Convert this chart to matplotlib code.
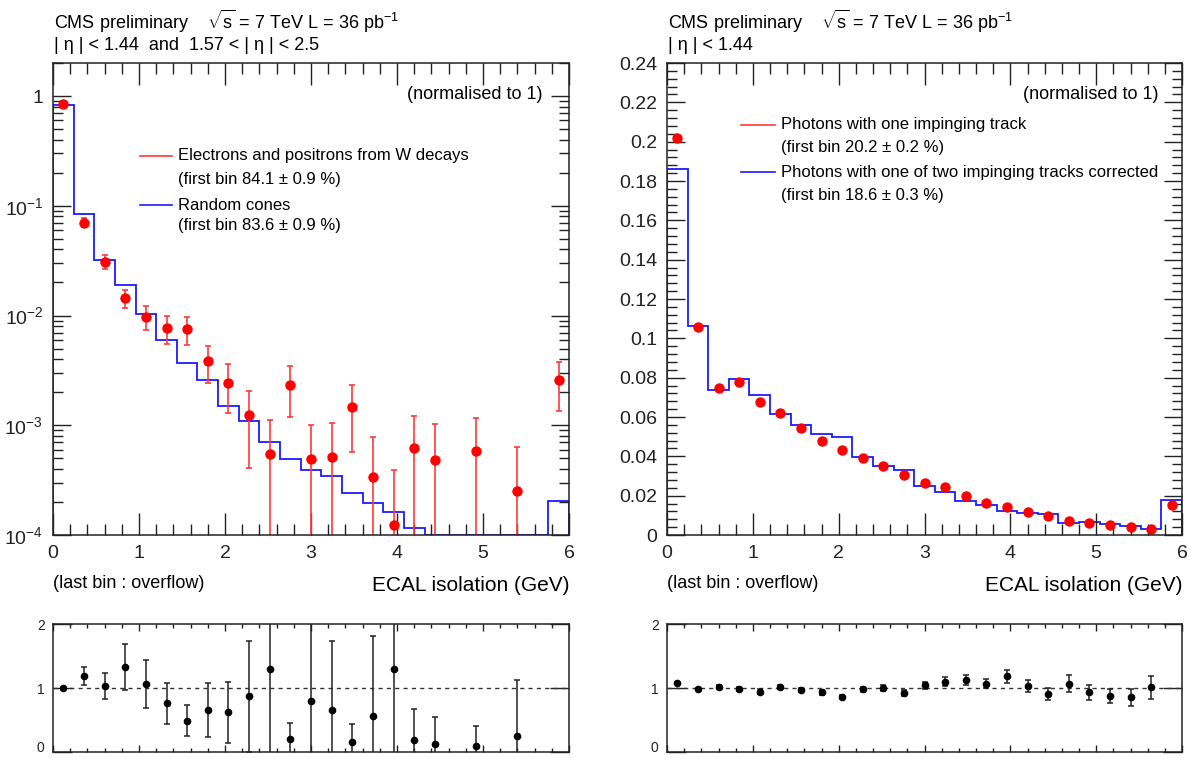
import numpy as np
import matplotlib
matplotlib.use("Agg")
import matplotlib.pyplot as plt
from matplotlib.ticker import MultipleLocator, FixedLocator, FuncFormatter, NullFormatter

plt.rcParams['font.family'] = ['Liberation Sans', 'DejaVu Sans']
plt.rcParams['mathtext.fontset'] = 'custom'
plt.rcParams['mathtext.rm'] = 'Liberation Sans'
plt.rcParams['mathtext.it'] = 'Liberation Sans:italic'

# binning : 25 bins of 0.24 GeV, last bin = overflow
edges = np.linspace(0, 6, 26)
centers = 0.5 * (edges[:-1] + edges[1:])

# left : electrons from W (red points) vs random cones (blue histo)
w_electrons = [0.841, 0.0702, 0.0309, 0.0144, 0.00979, 0.00773, 0.00751, 0.00384, 0.00244,
               0.00124, 0.000551, 0.00231, 0.000496, 0.000517, 0.00146, 0.000337, 0.000123,
               0.000615, 0.000485, np.nan, 0.000586, np.nan, 0.00025, np.nan, 0.00256]
w_electrons_err = [0.008, 0.0068, 0.0046, 0.0027, 0.0024, 0.0022, 0.0021, 0.0014, 0.00114,
                   0.00083, 0.00056, 0.00113, 0.00052, 0.00054, 0.00089, 0.00044, 0.00027,
                   0.0006, 0.00054, np.nan, 0.00058, np.nan, 0.00038, np.nan, 0.0012]
random_cones = [0.836, 0.0836, 0.0318, 0.01905, 0.01043, 0.00596, 0.00368, 0.00261, 0.0015,
                0.00109, 0.000708, 0.000492, 0.000391, 0.000344, 0.000241, 0.000194, 0.000161,
                0.000117, 0, 0, 0, 0, 0, 0, 0.000203]
ratio_left = [1.0, 1.19, 1.03, 1.33, 1.06, 0.76, 0.49, 0.66, 0.62, 0.87, 1.30, 0.21, 0.80,
              0.66, 0.16, 0.57, 1.29, 0.19, 0.13, np.nan, 0.09, np.nan, 0.25, np.nan, np.nan]
ratio_left_err = [0.02, 0.145, 0.2, 0.36, 0.37, 0.32, 0.24, 0.42, 0.48, 0.87, 1.4, 0.24, 1.3,
                  1.08, 0.27, 1.25, 1.5, 0.48, 0.41, np.nan, 0.32, np.nan, 0.88, np.nan, np.nan]

# right : photons with one impinging track vs corrected
ph_one_track = [0.202, 0.106, 0.075, 0.0776, 0.0676, 0.0621, 0.0545, 0.0476, 0.043, 0.0392,
                0.0351, 0.0304, 0.0265, 0.0242, 0.0196, 0.0165, 0.0143, 0.0119, 0.0095, 0.0071,
                0.0062, 0.0052, 0.0041, 0.0031, 0.0151]
ph_one_track_err = [0.002, 0.001, 0.0008, 0.0008, 0.0008, 0.0007, 0.0007, 0.0006, 0.0006, 0.0006,
                    0.0005, 0.0005, 0.0005, 0.0005, 0.0004, 0.0004, 0.0004, 0.0003, 0.0003, 0.0003,
                    0.0003, 0.0002, 0.0002, 0.0002, 0.0004]
ph_corrected = [0.186, 0.1064, 0.0738, 0.0795, 0.0712, 0.0614, 0.0561, 0.0514, 0.0499, 0.0399,
                0.0351, 0.0328, 0.0251, 0.022, 0.0174, 0.0151, 0.0122, 0.011, 0.0105, 0.0062,
                0.0067, 0.0057, 0.0046, 0.0031, 0.0179]
ratio_right = [1.08, 0.985, 1.015, 0.985, 0.94, 1.015, 0.97, 0.93, 0.855, 0.98, 1.0, 0.92,
               1.04, 1.10, 1.13, 1.07, 1.18, 1.03, 0.905, 1.07, 0.93, 0.87, 0.855, 1.015, np.nan]
ratio_right_err = [0.015, 0.015, 0.03, 0.03, 0.04, 0.03, 0.03, 0.04, 0.03, 0.04, 0.04, 0.05,
                   0.06, 0.07, 0.08, 0.07, 0.10, 0.10, 0.09, 0.13, 0.11, 0.11, 0.13, 0.18, np.nan]

W, H = 1189, 758
fig = plt.figure(figsize=(W / 100, H / 100), dpi=100)


def box(x0, y0, x1, y1):
    # pixel box -> figure fraction
    return [x0 / W, 1 - y1 / H, (x1 - x0) / W, (y1 - y0) / H]


def root_style(ax, xmaj, xmin, ymaj=13, ymin=7):
    ax.tick_params(which='both', direction='in', top=True, right=True, colors='#222')
    ax.tick_params(which='major', axis='x', length=xmaj, width=1)
    ax.tick_params(which='minor', axis='x', length=xmin, width=1)
    ax.tick_params(which='major', axis='y', length=ymaj, width=1)
    ax.tick_params(which='minor', axis='y', length=ymin, width=1)
    for s in ax.spines.values():
        s.set_color('#222')
        s.set_linewidth(1.1)
    ax.xaxis.set_major_locator(MultipleLocator(1))
    ax.xaxis.set_minor_locator(MultipleLocator(0.2))
    ax.set_xlim(0, 6)


# ---------------- left top : log scale
axL = fig.add_axes(box(53, 63, 569, 535))
root_style(axL, 16, 8)
axL.set_yscale('log')
axL.set_ylim(1e-4, 2)
floor = 1e-4
axL.stairs(np.maximum(random_cones, floor), edges, baseline=floor, color='#1a1aff', lw=1.3)
axL.errorbar(centers, w_electrons, yerr=w_electrons_err, fmt='o', color='#ff0000', ms=6.5,
             ecolor='#ff3a3a', elinewidth=1.2, capsize=2.5, capthick=1.2)
axL.yaxis.set_major_formatter(FuncFormatter(lambda v, p: '1' if abs(v - 1) < 1e-9 else r'$10^{%d}$' % round(np.log10(v))))
axL.yaxis.set_minor_formatter(NullFormatter())
axL.tick_params(axis='both', which='major', labelsize=14, pad=7)

axL.text(0.948, 0.934, '(normalised to 1)', transform=axL.transAxes, ha='right', va='center', fontsize=13)
axL.plot([0.169, 0.231], [0.803, 0.803], transform=axL.transAxes, color='#ff3a3a', lw=1.2)
axL.plot([0.169, 0.231], [0.699, 0.699], transform=axL.transAxes, color='#1a1aff', lw=1.2)
axL.text(0.242, 0.803, 'Electrons and positrons from W decays', transform=axL.transAxes, va='center', fontsize=12)
axL.text(0.242, 0.754, '(first bin 84.1 ± 0.9 %)', transform=axL.transAxes, va='center', fontsize=12)
axL.text(0.242, 0.699, 'Random cones', transform=axL.transAxes, va='center', fontsize=12)
axL.text(0.242, 0.655, '(first bin 83.6 ± 0.9 %)', transform=axL.transAxes, va='center', fontsize=12)
axL.text(0.0, -0.102, '(last bin : overflow)', transform=axL.transAxes, ha='left', va='center', fontsize=13)
axL.text(1.0, -0.106, 'ECAL isolation (GeV)', transform=axL.transAxes, ha='right', va='center', fontsize=15)

# ---------------- right top : linear scale
axR = fig.add_axes(box(667, 63, 1182, 535))
root_style(axR, 16, 8)
axR.set_ylim(0, 0.24)
axR.yaxis.set_major_locator(MultipleLocator(0.02))
axR.yaxis.set_minor_locator(MultipleLocator(0.004))
axR.yaxis.set_major_formatter(FuncFormatter(lambda v, p: '0' if abs(v) < 1e-9 else ('%.2f' % v).rstrip('0').rstrip('.')))
axR.stairs(ph_corrected, edges, baseline=0, color='#1a1aff', lw=1.3)
axR.errorbar(centers, ph_one_track, yerr=ph_one_track_err, fmt='o', color='#ff0000', ms=6.5,
             ecolor='#ff3a3a', elinewidth=1.2, capsize=0)
axR.tick_params(axis='both', which='major', labelsize=14, pad=7)

axR.text(0.955, 0.934, '(normalised to 1)', transform=axR.transAxes, ha='right', va='center', fontsize=13)
axR.plot([0.144, 0.210], [0.869, 0.869], transform=axR.transAxes, color='#ff3a3a', lw=1.2)
axR.plot([0.144, 0.210], [0.769, 0.769], transform=axR.transAxes, color='#1a1aff', lw=1.2)
axR.text(0.221, 0.869, 'Photons with one impinging track', transform=axR.transAxes, va='center', fontsize=12)
axR.text(0.221, 0.820, '(first bin 20.2 ± 0.2 %)', transform=axR.transAxes, va='center', fontsize=12)
axR.text(0.221, 0.769, 'Photons with one of two impinging tracks corrected', transform=axR.transAxes, va='center', fontsize=12)
axR.text(0.221, 0.720, '(first bin 18.6 ± 0.3 %)', transform=axR.transAxes, va='center', fontsize=12)
axR.text(0.0, -0.102, '(last bin : overflow)', transform=axR.transAxes, ha='left', va='center', fontsize=13)
axR.text(1.0, -0.106, 'ECAL isolation (GeV)', transform=axR.transAxes, ha='right', va='center', fontsize=15)

# headers
for x0, sel in [(54, '| η | < 1.44  and  1.57 < | η | < 2.5'), (668, '| η | < 1.44')]:
    fig.text(x0 / W, 1 - 21 / H, r'CMS preliminary    $\sqrt{\mathrm{s}}$ = 7 TeV L = 36 pb$^{-1}$',
             ha='left', va='center', fontsize=13)
    fig.text(x0 / W, 1 - 45 / H, sel, ha='left', va='center', fontsize=13)

# ---------------- ratio panels
for pos, vals, errs in [((53, 624, 569, 752), ratio_left, ratio_left_err),
                        ((667, 624, 1182, 752), ratio_right, ratio_right_err)]:
    axr = fig.add_axes(box(*pos))
    root_style(axr, 5, 3, ymaj=14, ymin=0)
    axr.set_ylim(0, 2)
    axr.yaxis.set_major_locator(FixedLocator([0, 1, 2]))
    axr.yaxis.set_minor_locator(FixedLocator([]))
    axr.xaxis.set_major_formatter(NullFormatter())
    axr.tick_params(axis='y', labelsize=10, pad=6)
    axr.axhline(1, color='#333', lw=1, ls=(0, (3, 3)))
    axr.errorbar(centers, vals, yerr=errs, fmt='o', color='black', ms=4.5,
                 ecolor='#222', elinewidth=1.1, capsize=2.5, capthick=1.1)
    # keep the "0" label inside the figure
    fig.canvas.draw()
    axr.get_yticklabels()[0].set_verticalalignment('baseline')

fig.savefig('out.png', dpi=100)
